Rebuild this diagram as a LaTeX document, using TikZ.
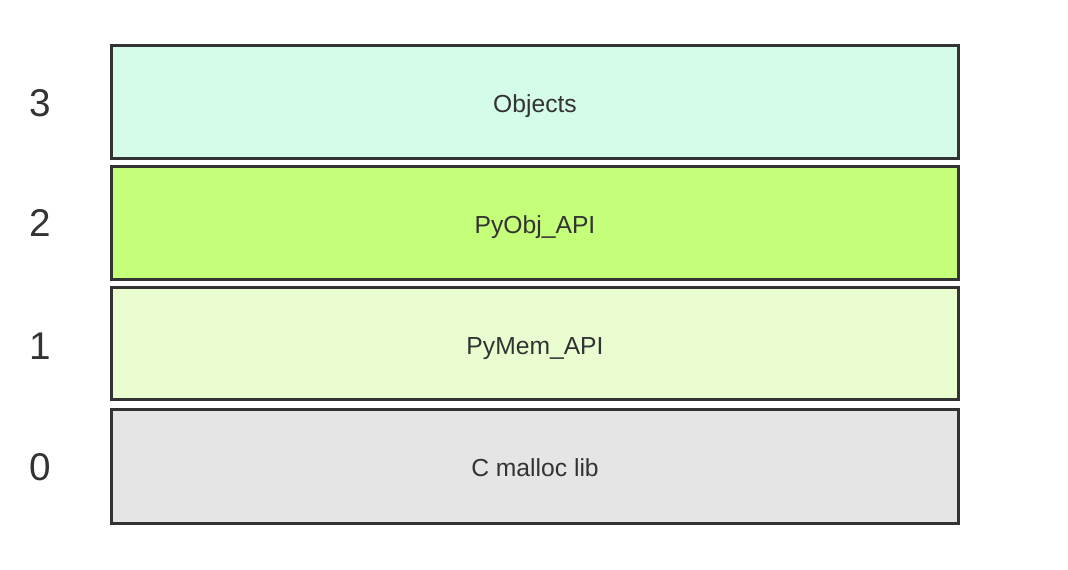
\documentclass[tikz,border=0pt]{standalone}
\usepackage{fontspec}
\setmainfont{Liberation Sans}
\definecolor{edge}{HTML}{333333}
\definecolor{fobj}{HTML}{D5FCE8}
\definecolor{fpyobj}{HTML}{C5FF7A}
\definecolor{fpymem}{HTML}{EAFDD0}
\definecolor{fmalloc}{HTML}{E5E5E5}
\begin{document}
\begin{tikzpicture}[x=0.75pt,y=-0.75pt,
  layer/.style={draw=edge,line width=2.25pt,minimum width=635.25pt,minimum height=84.5pt,inner sep=0pt,text=edge,text height=15.5pt,text depth=0pt,font=\fontsize{18.5}{22}\selectfont},
  levelnum/.style={text=edge,inner sep=0pt,font=\fontsize{29}{34}\selectfont}]
\useasboundingbox[fill=white] (0,0) rectangle (1068,570);
\node[layer,fill=fobj,minimum height=84.75pt] (l3) at (535,102.5) {Objects};
\node[layer,fill=fpyobj,minimum height=85pt] (l2) at (535,222.75) {PyObj\_API};
\node[layer,fill=fpymem,minimum height=84pt] (l1) at (535,344) {PyMem\_API};
\node[layer,fill=fmalloc,minimum height=85.5pt] (l0) at (535,466.5) {C malloc lib};
\node[levelnum] (n3) at (40,103) {3};
\node[levelnum] (n2) at (40,223) {2};
\node[levelnum] (n1) at (40,346) {1};
\node[levelnum] (n0) at (40,467) {0};
\end{tikzpicture}
\end{document}
